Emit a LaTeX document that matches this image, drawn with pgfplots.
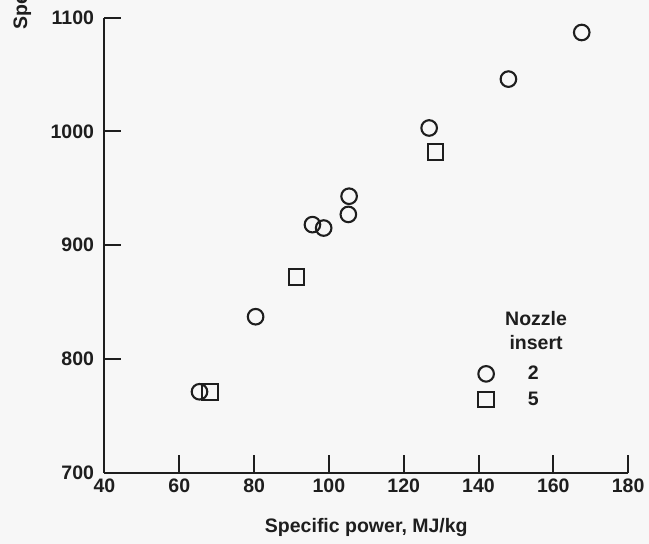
\documentclass[border=0pt]{standalone}
\usepackage{pgfplots}
\pgfplotsset{compat=1.18}
\usepackage{fontspec}
\setmainfont{Liberation Sans}
\usetikzlibrary{backgrounds}

\definecolor{ink}{RGB}{30,30,30}
\definecolor{paper}{RGB}{247,247,247}

% nozzle insert 2
\pgfplotstableread{
x y
65.4 771
80.4 837
95.6 918
98.6 915
105.2 927
105.4 943
126.8 1003
148.0 1046
167.6 1087
}\insertA
% nozzle insert 5
\pgfplotstableread{
x y
68.2 771
91.3 872
128.5 982
}\insertB

\begin{document}
\begin{tikzpicture}
\begin{axis}[
    name=ax,
    scale only axis,
    width=523.6bp, height=454.8bp,
    xmin=40, xmax=180, ymin=700, ymax=1100,
    xtick={40,60,...,180}, ytick={700,800,...,1100},
    axis lines*=left,
    axis line style={-, line width=2bp, ink},
    tick align=inside,
    major tick length=17bp,
    tick style={line width=2bp, ink},
    font=\fontsize{19.5bp}{23bp}\selectfont\bfseries,
    /pgf/number format/assume math mode=true,
    /pgf/number format/1000 sep={},
    xticklabel style={yshift=-3bp, text=ink},
    yticklabel style={xshift=-7bp, text=ink},
    xlabel={Specific power, MJ/kg},
    xlabel style={at={(axis description cs:0.5,0)}, anchor=base, yshift=-59.5bp, inner sep=0pt, text=ink},
    ylabel={Specific impulse, s},
    ylabel style={at={(axis description cs:-0.148,0.973)}, anchor=base west, inner sep=0pt, text=ink},
    legend style={draw=none, fill=none, at={(axis cs:139.1,775.5)}, anchor=west,
        nodes={inner sep=0pt, text=ink}, row sep=10bp,
        /tikz/every odd column/.append style={column sep=34bp}},
    legend cell align=left,
    legend image code/.code={\draw[#1] plot coordinates {(0bp,0bp)};},
]
\addplot[only marks, mark=o, mark size=7.8bp, line width=2.1bp, ink] table {\insertA};
\addlegendentry{2}
\addplot[only marks, mark=square, mark size=7.8bp, line width=2.1bp, ink] table {\insertB};
\addlegendentry{5}
\node[align=center, text=ink, inner sep=0pt, font=\fontsize{19.5bp}{24bp}\selectfont\bfseries] at (axis cs:155.4,825) {Nozzle\\insert};
\end{axis}
\pgfresetboundingbox
\path[use as bounding box] (ax.south west) ++(-104.5bp,-71.5bp) rectangle ++(649bp,544bp);
\begin{scope}[on background layer]
\fill[paper] (ax.south west) ++(-104.5bp,-71.5bp) rectangle ++(649bp,544bp);
\end{scope}
\end{tikzpicture}
\end{document}
